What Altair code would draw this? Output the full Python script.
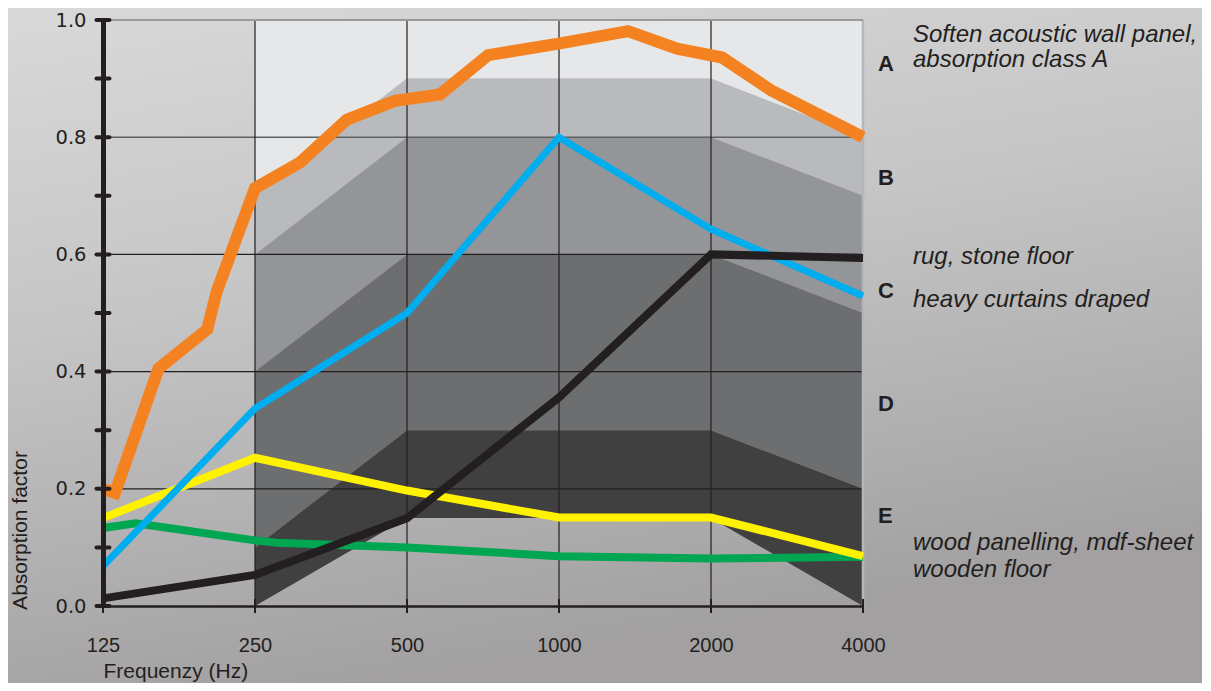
import altair as alt
import pandas as pd

# ---------------- data ----------------
# absorption-class reference bands (frequency in Hz, absorption factor)
band_freq = [250, 500, 1000, 2000, 4000]
curve_A = [0.7, 0.9, 0.9, 0.9, 0.8]
curve_B = [0.6, 0.8, 0.8, 0.8, 0.7]
curve_C = [0.4, 0.6, 0.6, 0.6, 0.5]
curve_D = [0.1, 0.3, 0.3, 0.3, 0.2]
curve_E = [0.0, 0.15, 0.15, 0.15, 0.0]
top_curve = [1.0, 1.0, 1.0, 1.0, 1.0]

# material curves
orange_f = [125, 132, 161, 201, 210, 250, 307, 380, 473, 581, 724, 1005, 1370, 1713, 2103, 2641, 4000]
orange_v = [0.20, 0.193, 0.405, 0.472, 0.537, 0.713, 0.757, 0.83, 0.862, 0.873, 0.94, 0.96, 0.981, 0.951, 0.936, 0.879, 0.80]

blue_f = [125, 250, 500, 1000, 2000, 4000]
blue_v = [0.068, 0.337, 0.50, 0.80, 0.643, 0.529]

black_f = [125, 250, 500, 1000, 2000, 4000]
black_v = [0.013, 0.053, 0.15, 0.356, 0.60, 0.594]

yellow_f = [125, 250, 500, 1000, 2000, 4000]
yellow_v = [0.15, 0.253, 0.197, 0.151, 0.151, 0.085]

green_f = [125, 145, 250, 276, 500, 1000, 2000, 4000]
green_v = [0.133, 0.141, 0.112, 0.108, 0.10, 0.085, 0.081, 0.084]

x_ticks = [125, 250, 500, 1000, 2000, 4000]
y_labels = [0.0, 0.2, 0.4, 0.6, 0.8, 1.0]
y_ticks = [0.0, 0.1, 0.2, 0.3, 0.4, 0.5, 0.6, 0.7, 0.8, 0.9, 1.0]
vgrid = [250, 500, 1000, 2000]
hgrid_dark = [0.2, 0.4, 0.6]
hgrid_mid = [0.8]
hgrid_top = [1.0]
border_right = [4000]

class_letters = ["A", "B", "C", "D", "E"]
class_letter_y = [0.913, 0.719, 0.526, 0.333, 0.141]
notes = ["Soften acoustic wall panel,", "absorption class A", "rug, stone floor",
         "heavy curtains draped", "wood panelling, mdf-sheet", "wooden floor"]
notes_y = [0.963, 0.920, 0.583, 0.510, 0.095, 0.049]

# ---------------- layout ----------------
W, H = 760, 586
PAD = {"left": 95, "top": 12, "right": 339, "bottom": 77}
INK = "#231f20"
SANS = "Liberation Sans, Arial, sans-serif"

xscale = alt.Scale(type="log", domain=[125, 4000], nice=False, zero=False)
yscale = alt.Scale(domain=[0, 1], nice=False, zero=True)

X = lambda f: alt.X(f, type="quantitative", scale=xscale)
Y = lambda f: alt.Y(f, type="quantitative", scale=yscale)

one = pd.DataFrame({"a": [0]})

# axes (domain + labels + titles) -- first layer so its axis settings win
axes = alt.Chart(pd.DataFrame({"f": x_ticks, "v": [0.0] * len(x_ticks)})).mark_point(opacity=0).encode(
    x=alt.X("f:Q", scale=xscale, axis=alt.Axis(
        values=x_ticks, format="d", ticks=False, grid=False, labelFlush=False,
        domainColor=INK, domainWidth=2.5, labelFont=SANS, labelFontSize=20,
        labelColor=INK, labelPadding=29, title="Frequenzy (Hz)", titleFont=SANS,
        titleFontSize=21, titleFontWeight="normal", titleColor=INK,
        titleX=0, titleY=71, titleAlign="left", titleBaseline="alphabetic",
        titleAnchor="start", zindex=1)),
    y=alt.Y("v:Q", scale=yscale, axis=alt.Axis(
        values=y_labels, format=".1f", ticks=False, grid=False,
        domainColor=INK, domainWidth=5, labelFont="DejaVu Sans", labelFontSize=19.5,
        labelColor=INK, labelPadding=17, title="Absorption factor", titleFont=SANS,
        titleFontSize=21, titleFontWeight="normal", titleColor=INK,
        titleAngle=270, titleX=-77, titleY=510, titleAlign="center",
        titleBaseline="alphabetic", zindex=1)),
)

# background gradient
bg = alt.Chart(one).mark_rect(
    fill=alt.LinearGradient(
        gradient="linear",
        stops=[alt.GradientStop(color="#d9d9d9", offset=0),
               alt.GradientStop(color="#c6c5c5", offset=0.45),
               alt.GradientStop(color="#a2a0a0", offset=1)],
        x1=0, x2=0.3, y1=0, y2=1),
    clip=False,
).encode(x=alt.value(-PAD["left"]), x2=alt.value(W + PAD["right"]),
         y=alt.value(-PAD["top"]), y2=alt.value(H + PAD["bottom"]))

def band(lo, hi, color):
    df = pd.DataFrame({"f": band_freq, "lo": lo, "hi": hi})
    return alt.Chart(df).mark_area(color=color, opacity=1, interpolate="linear").encode(
        x=X("f"), y=Y("lo"), y2="hi")

bands = [
    band(curve_A, top_curve, "#e6e7e8"),
    band(curve_B, curve_A, "#b9babd"),
    band(curve_C, curve_B, "#939598"),
    band(curve_D, curve_C, "#6d6e70"),
    band(curve_E, curve_D, "#404041"),
]

def hrules(vals, color, width):
    df = pd.DataFrame({"v": vals, "f0": [125] * len(vals), "f1": [4000] * len(vals)})
    return alt.Chart(df).mark_rule(color=color, strokeWidth=width).encode(
        y=Y("v"), x=X("f0"), x2="f1")

def vrules(vals, color, width):
    df = pd.DataFrame({"f": vals, "v0": [0] * len(vals), "v1": [1] * len(vals)})
    return alt.Chart(df).mark_rule(color=color, strokeWidth=width).encode(
        x=X("f"), y=Y("v0"), y2="v1")

grid = [
    hrules(hgrid_dark, INK, 1.2),
    hrules(hgrid_mid, "#5f6062", 1.5),
    vrules(vgrid, INK, 1.2),
    vrules(border_right, "#b4b6b9", 2.5),
    hrules(hgrid_top, "#9a9a9a", 2),
]

def line(fs, vs, color, width):
    df = pd.DataFrame({"f": fs, "v": vs})
    return alt.Chart(df).mark_line(color=color, strokeWidth=width, strokeJoin="miter",
                                   strokeCap="butt", interpolate="linear").encode(
        x=X("f"), y=Y("v"), order="f:Q")

lines = [
    line(green_f, green_v, "#00a651", 8),
    line(yellow_f, yellow_v, "#fff200", 8),
    line(blue_f, blue_v, "#00aeef", 7),
    line(black_f, black_v, INK, 8),
    line(orange_f, orange_v, "#f58220", 12),
]

ytick_marks = alt.Chart(pd.DataFrame({"v": y_ticks, "f": [125] * len(y_ticks)})).mark_tick(
    orient="horizontal", size=17, thickness=4, color=INK, cornerRadius=2, opacity=1, clip=False
).encode(x=X("f"), y=Y("v"))

xtick_marks = alt.Chart(pd.DataFrame({"f": x_ticks, "v": [0.0] * len(x_ticks)})).mark_tick(
    orient="vertical", size=14, thickness=2, color=INK, opacity=1, clip=False
).encode(x=X("f"), y=Y("v"))

letters = alt.Chart(pd.DataFrame({"t": class_letters, "v": class_letter_y})).mark_text(
    font=SANS, fontSize=22, fontWeight="bold", color=INK, align="left",
    baseline="alphabetic", clip=False
).encode(x=alt.value(775), y=Y("v"), text="t:N")

note_text = alt.Chart(pd.DataFrame({"t": notes, "v": notes_y})).mark_text(
    font=SANS, fontSize=24, fontStyle="italic", color=INK, align="left",
    baseline="alphabetic", clip=False
).encode(x=alt.value(810), y=Y("v"), text="t:N")

chart = alt.layer(
    axes, bg, *bands, *grid, *lines, ytick_marks, xtick_marks, letters, note_text
).properties(
    width=W, height=H,
    autosize=alt.AutoSizeParams(type="none"),
    padding=PAD,
).configure_view(stroke=None, fill=None).configure(background="#c8c7c7")

chart.save("out.html", embed_options={"renderer": "svg", "actions": False})
